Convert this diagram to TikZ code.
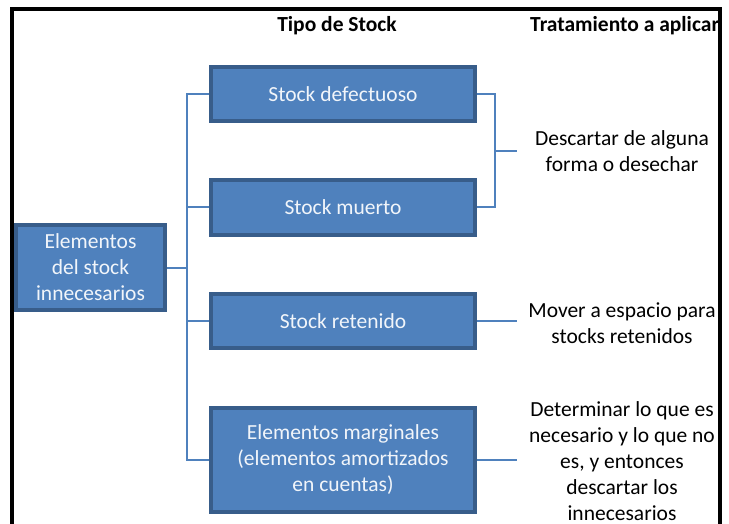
\documentclass[tikz,border=0pt]{standalone}
\usepackage{fontspec}
\setmainfont{Carlito}
\begin{document}
\begin{tikzpicture}[x=1pt,y=-1pt,
  box/.style={draw=boxedge, fill=boxfill, line width=4pt, text=white!92!boxfill, align=center, font=\fontsize{21.5}{26}\selectfont, inner sep=0pt},
  conn/.style={draw=boxfill, line width=2pt},
  lbl/.style={align=center, font=\fontsize{21.5}{26}\selectfont, inner sep=0pt},
  head/.style={font=\bfseries\fontsize{21.5}{24}\selectfont, inner sep=0pt}]
\definecolor{boxfill}{HTML}{4F81BD}
\definecolor{boxedge}{HTML}{385D8A}
\useasboundingbox (0,0) rectangle (729,524);
% frame
\draw[line width=4pt] (12,524) -- (12,9) -- (720,9) -- (720,524);
% headers
\node[head] (h1) at (337,26) {Tipo de Stock};
\begin{scope}
\clip (500,0) rectangle (718,60);
\node[head, anchor=west] (h2) at (530,26) {Tratamiento a aplicar};
\end{scope}
% boxes
\node[box, minimum width=264, minimum height=54] (b1) at (343,94) {Stock defectuoso};
\node[box, minimum width=264, minimum height=55] (b2) at (343,207.5) {Stock muerto};
\node[box, minimum width=264, minimum height=54] (b3) at (343,321) {Stock retenido};
\node[box, minimum width=264, minimum height=104] (b4) at (343,460) {Elementos marginales\\(elementos amortizados\\en cuentas)};
\node[box, minimum width=149, minimum height=85] (b0) at (90.5,267.5) {Elementos\\del stock\\innecesarios};
% right labels
\node[lbl] (t1) at (622,151) {Descartar de alguna\\forma o desechar};
\node[lbl] (t2) at (622,323) {Mover a espacio para\\stocks retenidos};
\node[lbl] (t3) at (622,461) {Determinar lo que es\\necesario y lo que no\\es, y entonces\\descartar los\\innecesarios};
% coordinates
\coordinate (tr) at (187,267.5);
\coordinate (rb) at (495,151);
% left trunk
\draw[conn] (b0.east) -- (tr);
\draw[conn] (b1.west) -| (tr) |- (b4.west);
\draw[conn] (b2.west) -- (b2.west -| tr);
\draw[conn] (b3.west) -- (b3.west -| tr);
% right bracket
\draw[conn] (b1.east) -| (rb) |- (b2.east);
\draw[conn] (rb) -- (517,151) coordinate (e1);
\draw[conn] (b3.east) -- ++(40,0) coordinate (e2);
\draw[conn] (b4.east) -- ++(40,0) coordinate (e3);
\end{tikzpicture}
\end{document}
